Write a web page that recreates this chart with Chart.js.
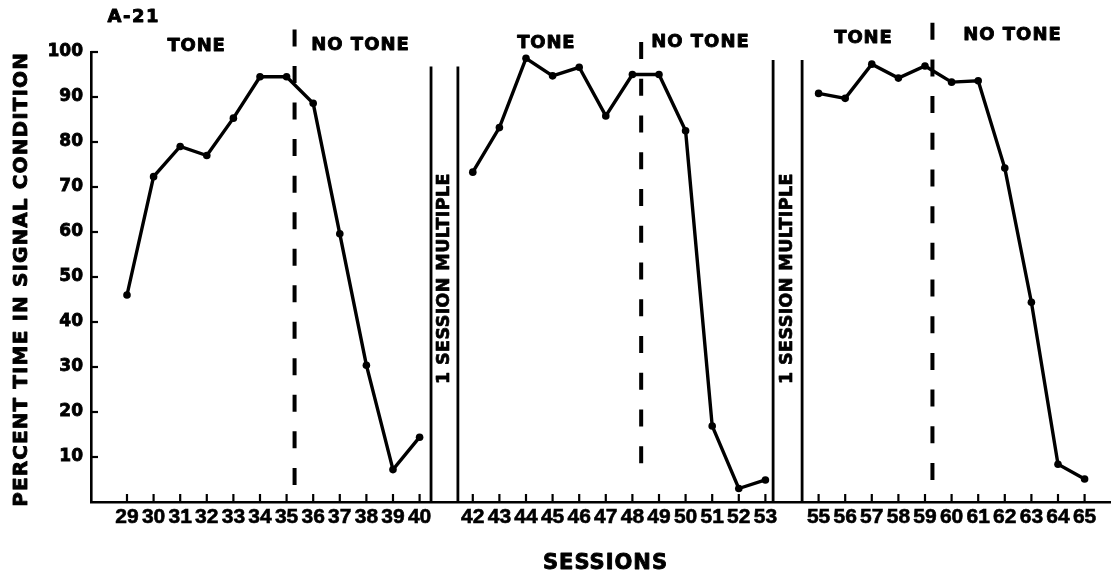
<!DOCTYPE html>
<html>
<head>
<meta charset="utf-8">
<script src="https://cdn.jsdelivr.net/npm/chart.js@4/dist/chart.umd.min.js"></script>
<style>
html,body{margin:0;padding:0;background:#fff;}
#wrap{width:1120px;height:578px;position:relative;}
</style>
</head>
<body>
<div id="wrap"><canvas id="c" width="1120" height="578"></canvas></div>
<script>
// ---- data ----
const sessionsA = [29,30,31,32,33,34,35,36,37,38,39,40];
const valuesA   = [46.0,72.3,79.0,77.0,85.3,94.5,94.5,88.6,59.6,30.4,7.2,14.4];
const sessionsB = [42,43,44,45,46,47,48,49,50,51,52,53];
const valuesB   = [73.3,83.2,98.6,94.7,96.6,85.8,95.0,95.0,82.5,16.9,3.0,4.9];
const sessionsC = [55,56,57,58,59,60,61,62,63,64,65];
const valuesC   = [90.8,89.7,97.3,94.2,96.9,93.3,93.6,74.2,44.4,8.4,5.1];
const xTickValues = [...sessionsA, ...sessionsB, ...sessionsC];
const yTickValues = [10,20,30,40,50,60,70,80,90,100];
const panelLabel = 'A-21';
const toneLabel = 'TONE';
const noToneLabel = 'NO TONE';
const breakLabel = '1 SESSION MULTIPLE';
const xTitle = 'SESSIONS';
const yTitle = 'PERCENT TIME IN SIGNAL CONDITION';
// condition change (tone -> no tone), in session units
const toneOffSessions = [35.3, 48.33, 59.28];
// "1 session multiple" breaks between blocks, in session units
const breakPairs = [[40.43, 41.44], [53.29, 54.38]];

// ---- layout/style constants (not data) ----
const dashSpans = [[105, 3.8], [102.2, 8.6], [106.5, 4.9]];
const breakTops = [96.8, 98.2];
const toneTextPos = [[31.6, 101.2], [44.75, 102.0], [56.67, 103.1]];
const noToneTextPos = [[37.76, 101.4], [50.54, 102.2], [62.27, 103.6]];

function ds(xs, ys) {
  return {
    data: xs.map((s, i) => ({x: s, y: ys[i]})),
    borderColor: '#000',
    backgroundColor: '#000',
    borderWidth: 3.4,
    pointRadius: 3.8,
    pointBackgroundColor: '#000',
    pointBorderColor: '#000',
    pointBorderWidth: 0,
    tension: 0,
    fill: false
  };
}

function txt(ctx, s, x, y, font, spacing, rot, stroke) {
  ctx.save();
  ctx.font = font;
  try { ctx.letterSpacing = (spacing || 0) + 'px'; } catch (e) {}
  ctx.fillStyle = '#000';
  ctx.strokeStyle = '#000';
  ctx.lineJoin = 'round';
  ctx.lineWidth = stroke || 0.9;
  ctx.textAlign = 'center';
  ctx.textBaseline = 'middle';
  ctx.translate(x, y);
  if (rot) ctx.rotate(rot);
  ctx.fillText(s, (spacing || 0) / 2, 0);
  ctx.strokeText(s, (spacing || 0) / 2, 0);
  ctx.restore();
}

const annot = {
  id: 'annot',
  afterDraw(chart) {
    const ctx = chart.ctx;
    const x = chart.scales.x, y = chart.scales.y;
    ctx.save();
    ctx.strokeStyle = '#000';
    ctx.lineCap = 'butt';
    // inward tick marks
    ctx.lineWidth = 2.2;
    x.ticks.forEach(t => {
      const px = x.getPixelForValue(t.value);
      ctx.beginPath(); ctx.moveTo(px, y.bottom); ctx.lineTo(px, y.bottom - 8); ctx.stroke();
    });
    y.ticks.forEach(t => {
      const py = y.getPixelForValue(t.value);
      ctx.beginPath(); ctx.moveTo(x.left, py); ctx.lineTo(x.left + 7, py); ctx.stroke();
    });
    // dashed condition-change lines (dash count fitted to the span)
    ctx.lineWidth = 4;
    toneOffSessions.forEach((s, i) => {
      const px = x.getPixelForValue(s);
      const y1 = y.getPixelForValue(dashSpans[i][0]);
      const y2 = y.getPixelForValue(dashSpans[i][1]);
      const L = y2 - y1, dash = 17;
      const n = Math.max(2, Math.round((L + 21) / 38));
      const gap = (L - n * dash) / (n - 1);
      ctx.setLineDash([dash, gap]);
      ctx.beginPath();
      ctx.moveTo(px, y1);
      ctx.lineTo(px, y2);
      ctx.stroke();
    });
    ctx.setLineDash([]);
    // solid break lines
    ctx.lineWidth = 2.8;
    breakPairs.forEach((pair, i) => {
      pair.forEach(s => {
        const px = x.getPixelForValue(s);
        ctx.beginPath();
        ctx.moveTo(px, y.getPixelForValue(breakTops[i]));
        ctx.lineTo(px, y.getPixelForValue(0));
        ctx.stroke();
      });
      const mid = (pair[0] + pair[1]) / 2;
      txt(ctx, breakLabel, x.getPixelForValue(mid), y.getPixelForValue(49.6),
          'bold 17.5px "DejaVu Sans"', 0.4, -Math.PI / 2, 0.7);
    });
    // phase labels
    toneTextPos.forEach(p => txt(ctx, toneLabel, x.getPixelForValue(p[0]), y.getPixelForValue(p[1]),
      'bold 18px "DejaVu Sans"', 0.8));
    noToneTextPos.forEach(p => txt(ctx, noToneLabel, x.getPixelForValue(p[0]), y.getPixelForValue(p[1]),
      'bold 18px "DejaVu Sans"', 1.0));
    // panel label
    txt(ctx, panelLabel, 133, 17, 'bold 18px "DejaVu Sans"', 1.5);
    // axis titles
    txt(ctx, yTitle, 22, 280, 'bold 20px "DejaVu Sans"', 1.1, -Math.PI / 2);
    txt(ctx, xTitle, 605, 564, 'bold 21px "DejaVu Sans"', 1);
    ctx.restore();
  }
};

new Chart(document.getElementById('c'), {
  type: 'line',
  data: { datasets: [ds(sessionsA, valuesA), ds(sessionsB, valuesB), ds(sessionsC, valuesC)] },
  options: {
    responsive: false,
    animation: false,
    devicePixelRatio: 1,
    layout: { padding: { top: 52, right: 10, left: 0, bottom: 0 } },
    plugins: { legend: { display: false }, tooltip: { enabled: false }, title: { display: false } },
    scales: {
      x: {
        type: 'linear',
        min: 27.647,
        max: 65.955,
        afterBuildTicks: s => { s.ticks = xTickValues.map(v => ({value: v})); },
        afterFit: s => { s.height = 76; },
        grid: { display: true, drawOnChartArea: false, drawTicks: false },
        border: { display: true, color: '#000', width: 2.6 },
        ticks: {
          autoSkip: false,
          maxRotation: 0,
          padding: 3,
          color: '#000',
          textStrokeColor: '#000',
          textStrokeWidth: 0.6,
          font: { family: 'Liberation Sans', weight: 'bold', size: 21 },
          callback: v => String(v)
        }
      },
      y: {
        type: 'linear',
        min: 0,
        max: 100,
        afterBuildTicks: s => { s.ticks = yTickValues.map(v => ({value: v})); },
        afterFit: s => { s.width = 91; },
        grid: { display: true, drawOnChartArea: false, drawTicks: false },
        border: { display: true, color: '#000', width: 2.6 },
        ticks: {
          padding: 8,
          color: '#000',
          textStrokeColor: '#000',
          textStrokeWidth: 0.8,
          font: { family: '"DejaVu Sans"', weight: 'bold', size: 17 },
          callback: v => String(v)
        }
      }
    }
  },
  plugins: [annot]
});
</script>
</body>
</html>
